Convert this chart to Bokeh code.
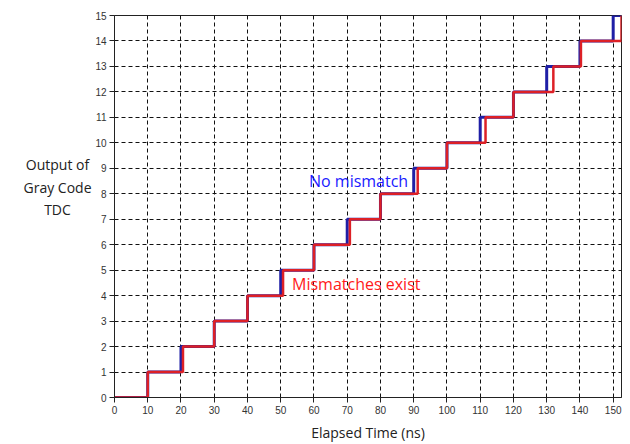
from bokeh.plotting import figure
from bokeh.layouts import row
from bokeh.models import Range1d, FixedTicker, Label
from bokeh.core.properties import value
from bokeh.embed import file_html
from bokeh.resources import INLINE

# Transition times (ns) of each code step
ideal_steps = [10, 20, 30, 40, 50, 60, 70, 80, 90, 100, 110, 120, 130, 140, 150]
mismatch_steps = [10, 20.6, 30, 40, 50.7, 60, 70.8, 80, 91.2, 100, 111.6, 120, 132, 140.3, 152.5]
codes = list(range(0, 16))
x_ticks = list(range(0, 151, 10))
y_ticks = list(range(0, 16))
x_end = 152.5
y_title_lines = ["Output of", "Gray Code", "TDC"]

# left panel holding the horizontal y-axis title
left_w = 92
t = figure(width=left_w, height=444, output_backend="svg", toolbar_location=None,
           x_range=Range1d(0, left_w), y_range=Range1d(444, 0),
           min_border_left=0, min_border_right=0, min_border_top=0, min_border_bottom=0)
t.axis.visible = False
t.grid.visible = False
t.outline_line_color = None
t.text(x=[57] * 3, y=[173, 199.5, 226], text=y_title_lines, text_color="#222222",
       text_font=value("Open Sans"), text_font_size="14px",
       text_align="center", text_baseline="middle")

p = figure(width=630 - left_w, height=444, output_backend="svg", toolbar_location=None,
           x_range=Range1d(0, x_end), y_range=Range1d(0, 15),
           min_border_left=113 - left_w, min_border_right=9, min_border_top=15, min_border_bottom=46)
p.background_fill_color = "white"
p.outline_line_color = "#222222"
p.outline_line_width = 1

for ax in (p.xaxis, p.yaxis):
    ax.axis_line_color = "#222222"
    ax.major_tick_line_color = "#222222"
    ax.major_tick_out = 5
    ax.major_tick_in = 0
    ax.minor_tick_line_color = None
    ax.major_label_text_font = "Liberation Sans"
    ax.major_label_text_font_size = "10px"
    ax.major_label_text_color = "#333333"
p.xaxis.ticker = FixedTicker(ticks=x_ticks)
p.yaxis.ticker = FixedTicker(ticks=y_ticks)
p.xaxis.major_label_standoff = 3
p.yaxis.major_label_standoff = 3
p.xaxis.axis_label = "Elapsed Time (ns)"
p.xaxis.axis_label_text_font = "Open Sans"
p.xaxis.axis_label_text_font_style = "normal"
p.xaxis.axis_label_text_font_size = "14px"
p.xaxis.axis_label_text_color = "#222222"
p.xaxis.axis_label_standoff = 6

for g in (p.xgrid, p.ygrid):
    g.grid_line_color = "#111111"
    g.grid_line_dash = "4 3"
    g.grid_line_width = 1
p.xgrid.ticker = FixedTicker(ticks=x_ticks[1:])
p.ygrid.ticker = FixedTicker(ticks=y_ticks[1:])

ix = [0] + ideal_steps + [x_end]
iy = codes + [15]
mx = [0] + mismatch_steps
my = codes
p.step(ix, iy, mode="after", line_color="#1f1fa6", line_width=3)
p.step(mx, my, mode="after", line_color="#dd2026", line_width=2.5)

p.add_layout(Label(x=58.5, y=8.5, text="No mismatch", text_color="#1a1aff",
                   text_font="Open Sans", text_font_size="16px", text_baseline="middle"))
p.add_layout(Label(x=53.4, y=4.47, text="Mismatches exist", text_color="#ff1a1a",
                   text_font="Open Sans", text_font_size="16px", text_baseline="middle"))

open("out.html", "w").write(file_html(row(t, p), INLINE))
